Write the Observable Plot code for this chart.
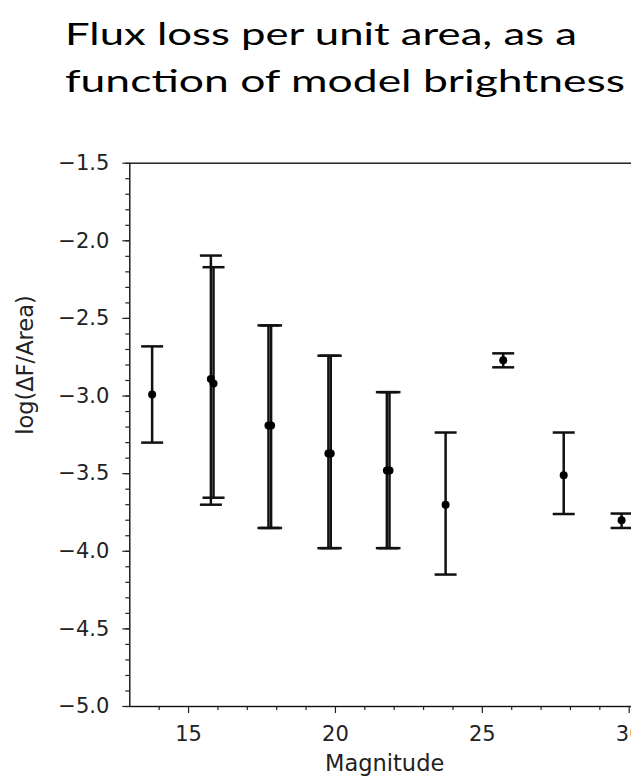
<!DOCTYPE html>
<html>
<head>
<meta charset="utf-8">
<script src="https://cdn.jsdelivr.net/npm/d3@7"></script>
<script src="https://cdn.jsdelivr.net/npm/@observablehq/plot@0.6"></script>
<style>
  html, body { margin: 0; padding: 0; background: #fff; overflow: hidden; width: 631px; height: 778px; }
  #title { display: block; }
  #chart svg { max-width: none !important; display: block; }
</style>
</head>
<body>
<svg id="title" width="631" height="120" xmlns="http://www.w3.org/2000/svg"></svg>
<div id="chart"></div>
<script>
// ---- data ----
const titleLines = ["Flux loss per unit area, as a", "function of model brightness"];
const xLabel = "Magnitude";
const yLabel = "log(ΔF/Area)";

// main run
const magA  = [13.76, 15.76, 17.72, 19.76, 21.75, 23.75, 25.71, 27.77, 29.74];
const meanA = [-2.99, -2.89, -3.19, -3.37, -3.48, -3.70, -2.77, -3.51, -3.80];
const lowA  = [-3.30, -3.70, -3.85, -3.98, -3.98, -4.15, -2.815, -3.76, -3.85];
const highA = [-2.68, -2.095, -2.545, -2.74, -2.975, -3.235, -2.725, -3.235, -3.757];

// second, overlapping run
const magB  = [15.85, 17.81, 19.84, 21.84];
const meanB = [-2.92, -3.19, -3.37, -3.48];
const lowB  = [-3.655, -3.85, -3.98, -3.98];
const highB = [-2.17, -2.545, -2.74, -2.975];

const xMajorTicks = [15, 20, 25, 30];
const yMajorTicks = [-5.0, -4.5, -4.0, -3.5, -3.0, -2.5, -2.0, -1.5];
const xMinorTicks = [14, 16, 17, 18, 19, 21, 22, 23, 24, 26, 27, 28, 29];
const yMinorTicks = d3.range(-50, -14).map(d => d / 10);

const rows = [
  ...magA.map((m, i) => ({mag: m, mean: meanA[i], low: lowA[i], high: highA[i]})),
  ...magB.map((m, i) => ({mag: m, mean: meanB[i], low: lowB[i], high: highB[i]}))
];

// ---- title ----
const tsvg = d3.select("#title");
const tLen = [512, 560];
const tY = [45, 91.5];
titleLines.forEach((t, i) => {
  tsvg.append("text")
    .attr("x", 65).attr("y", tY[i])
    .attr("font-family", "Lato, 'Open Sans', sans-serif")
    .attr("font-size", 31)
    .attr("fill", "#000")
    .attr("textLength", tLen[i])
    .attr("lengthAdjust", "spacingAndGlyphs")
    .text(t);
});

// ---- chart ----
const capSymbol = {
  draw(ctx, size) {
    const r = Math.sqrt(size / Math.PI);
    ctx.moveTo(-r, 0);
    ctx.lineTo(r, 0);
  }
};
const ink = "#111";

const plot = Plot.plot({
  width: 640,
  height: 658,
  marginTop: 42.7,
  marginBottom: 72,
  marginLeft: 129.3,
  marginRight: 1,
  style: {fontFamily: "DejaVu Sans, sans-serif", color: "#222", background: "#fff"},
  x: {domain: [13, 30.35], label: null},
  y: {domain: [-5, -1.5], label: null},
  marks: [
    Plot.axisX({ticks: xMinorTicks, tickSize: 4, tickFormat: () => "", strokeWidth: 1.2, label: null}),
    Plot.axisX({ticks: xMajorTicks, tickSize: 7, tickPadding: 12.5, fontSize: 21, strokeWidth: 1.2, tickFormat: d => String(d), label: null}),
    Plot.axisY({ticks: yMinorTicks, tickSize: 4, tickFormat: () => "", strokeWidth: 1.2, label: null}),
    Plot.axisY({ticks: yMajorTicks, tickSize: 7, tickPadding: 13.5, fontSize: 21, strokeWidth: 1.2, tickFormat: d3.format(".1f"), label: null}),
    Plot.frame({stroke: ink, strokeWidth: 1.4}),
    Plot.ruleX(rows, {x: "mag", y1: "low", y2: "high", stroke: ink, strokeWidth: 2.5}),
    Plot.dot(rows, {x: "mag", y: "high", symbol: capSymbol, r: 11, stroke: ink, strokeWidth: 2.5, fill: "none"}),
    Plot.dot(rows, {x: "mag", y: "low", symbol: capSymbol, r: 11, stroke: ink, strokeWidth: 2.5, fill: "none"}),
    Plot.dot(rows, {x: "mag", y: "mean", r: 4, fill: "#000", stroke: null}),
    Plot.text([yLabel], {frameAnchor: "left", dx: -104, rotate: -90, fontSize: 22.5, fill: "#222"}),
    Plot.text([xLabel], {frameAnchor: "bottom", dy: 64, fontSize: 22.5, fill: "#222"})
  ]
});
plot.style.maxWidth = "none";
document.getElementById("chart").appendChild(plot);
</script>
</body>
</html>
